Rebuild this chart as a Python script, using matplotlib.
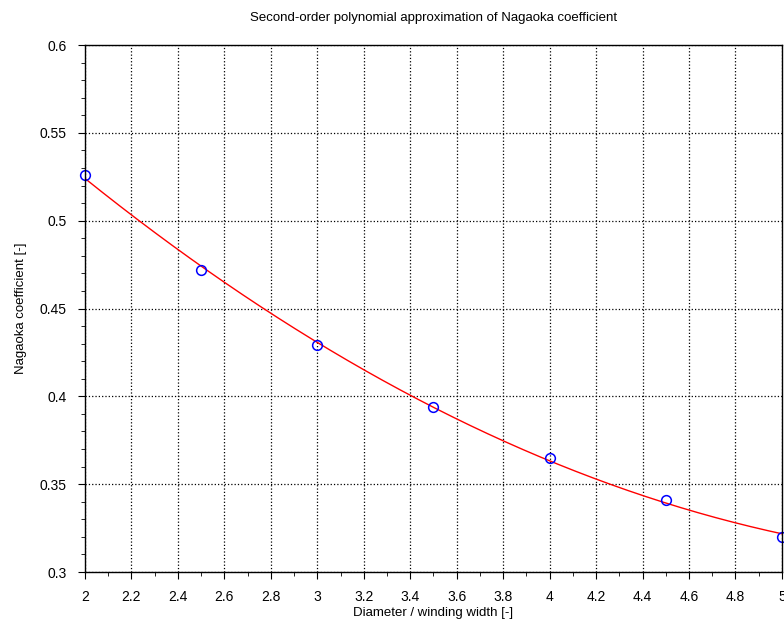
import numpy as np
import matplotlib.pyplot as plt
from matplotlib.ticker import MultipleLocator

# ratio diameter / winding width and measured Nagaoka coefficient
ratio = [2.0, 2.5, 3.0, 3.5, 4.0, 4.5, 5.0]
nagaoka = [0.526, 0.472, 0.429, 0.394, 0.365, 0.341, 0.320]

# second-order fit of the points
coef = np.polyfit(ratio, nagaoka, 2)
xs = np.linspace(2, 5, 200)
ys = np.polyval(coef, xs)

plt.rcParams['font.family'] = ['Liberation Sans Narrow', 'Liberation Sans', 'DejaVu Sans']

fig = plt.figure(figsize=(7.84, 6.35), dpi=100)
ax = fig.add_axes([0.1084, 0.0992, 0.8890, 0.8298])

ax.plot(xs, ys, color='red', lw=1)
ax.plot(ratio, nagaoka, 'o', mfc='none', mec='blue', ms=7, mew=1.1, clip_on=False)

ax.set_xlim(2, 5)
ax.set_ylim(0.3, 0.6)
ax.xaxis.set_major_locator(MultipleLocator(0.2))
ax.xaxis.set_minor_locator(MultipleLocator(0.1))
ax.yaxis.set_major_locator(MultipleLocator(0.05))
ax.yaxis.set_minor_locator(MultipleLocator(0.01))
ax.set_xticklabels([f'{v:g}' for v in ax.get_xticks()])
ax.set_yticklabels([f'{v:g}' for v in ax.get_yticks()])

ax.grid(True, which='major', color='black', ls=':', lw=0.9)
ax.tick_params(which='major', direction='out', length=5, labelsize=10, pad=8)
ax.tick_params(which='minor', direction='out', length=3)
for s in ax.spines.values():
    s.set_linewidth(1)

ax.set_title('Second-order polynomial approximation of Nagaoka coefficient', fontsize=9.5, pad=17)
ax.set_xlabel('Diameter / winding width [-]', fontsize=9.5, labelpad=2)
ax.set_ylabel('Nagaoka coefficient [-]', fontsize=9.5, labelpad=9)

fig.savefig('out.png', dpi=100)
